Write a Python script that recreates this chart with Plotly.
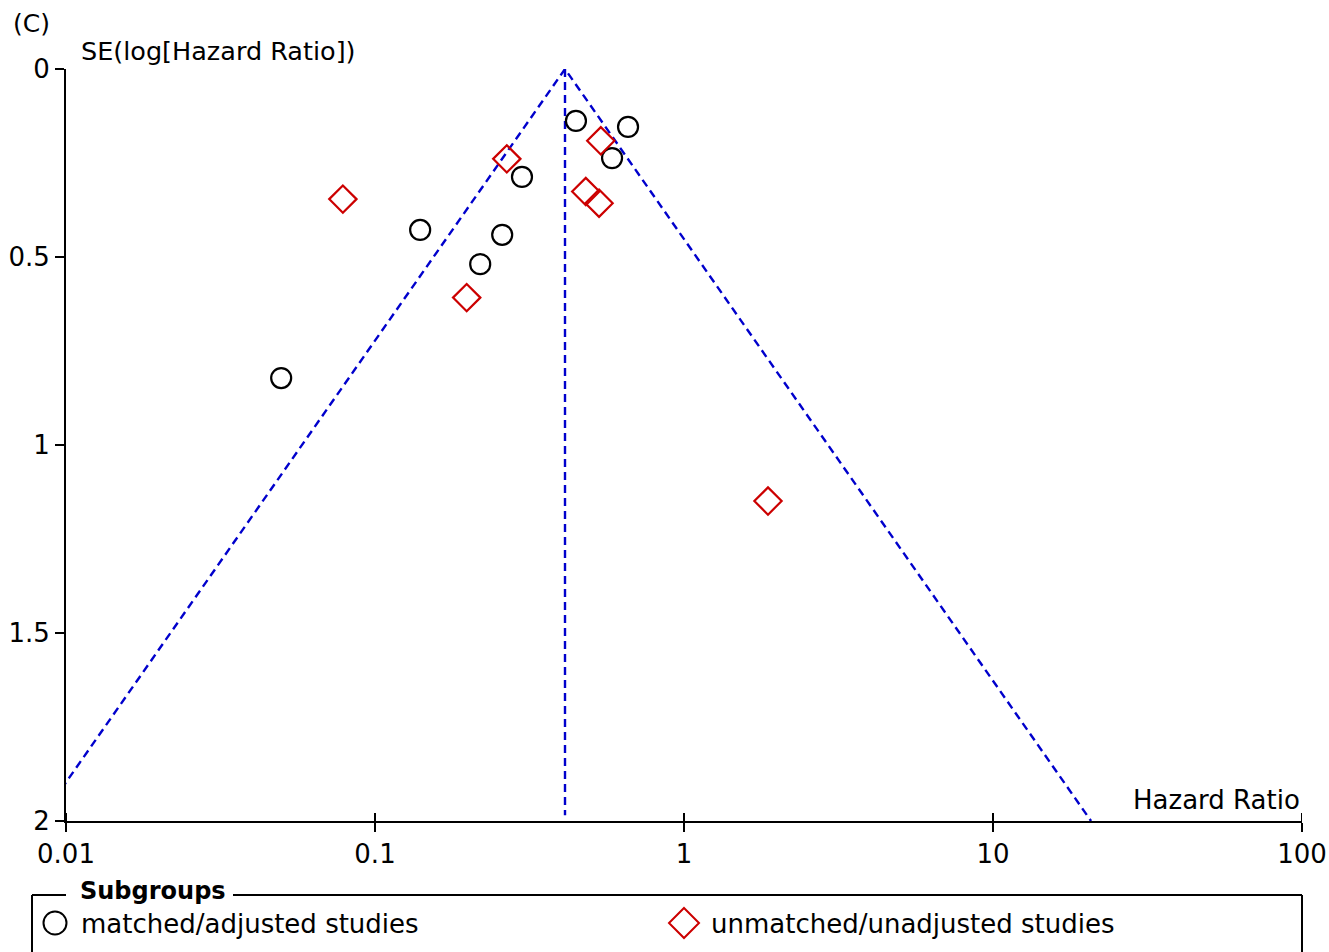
import math
import plotly.graph_objects as go

# ---- data ----
matched_hr = [0.447, 0.659, 0.585, 0.299, 0.140, 0.258, 0.219, 0.0497]
matched_se = [0.138, 0.154, 0.237, 0.287, 0.428, 0.441, 0.519, 0.822]
unmatched_hr = [0.0787, 0.267, 0.538, 0.481, 0.531, 0.198, 1.87]
unmatched_se = [0.346, 0.239, 0.191, 0.326, 0.357, 0.608, 1.149]
pooled_hr = 0.412
funnel_se = [0, 2]
x_ticks = [0.01, 0.1, 1, 10, 100]
x_tick_labels = ["0.01", "0.1", "1", "10", "100"]
y_ticks = [0, 0.5, 1, 1.5, 2]
y_tick_labels = ["0", "0.5", "1", "1.5", "2"]
legend_labels = ["matched/adjusted studies", "unmatched/unadjusted studies"]

W, H = 1329, 952
L, R, T, B = 66, 1302, 69, 821
FONT = "DejaVu Sans"
FS = 26
BLUE = "#0000CC"
RED = "#CC0000"
DASH = "8px,5px"

def px(x):
    return (x - L) / (R - L)

def py(y):
    return (B - y) / (B - T)

fig = go.Figure()

# funnel lines
se_max = funnel_se[1]
fx = [pooled_hr * math.exp(-1.96 * se_max), pooled_hr, pooled_hr * math.exp(1.96 * se_max)]
fy = [se_max, funnel_se[0], se_max]
fig.add_trace(go.Scatter(x=fx, y=fy, mode="lines",
                         line=dict(color=BLUE, width=2.4, dash=DASH),
                         showlegend=False, hoverinfo="skip"))
fig.add_trace(go.Scatter(x=[pooled_hr, pooled_hr], y=[funnel_se[0], 1.985], mode="lines",
                         line=dict(color=BLUE, width=2.4, dash=DASH),
                         showlegend=False, hoverinfo="skip"))

fig.add_trace(go.Scatter(x=matched_hr, y=matched_se, mode="markers",
                         marker=dict(symbol="circle-open", size=20, color="black",
                                     line=dict(color="black", width=2.2)),
                         showlegend=False, name=legend_labels[0]))
fig.add_trace(go.Scatter(x=unmatched_hr, y=unmatched_se, mode="markers",
                         marker=dict(symbol="diamond-open", size=21, color=RED,
                                     line=dict(color=RED, width=2.2)),
                         showlegend=False, name=legend_labels[1]))

shapes = []
# x ticks crossing inside
for t in x_ticks:
    shapes.append(dict(type="line", xref="x", yref="paper", x0=t, x1=t,
                       y0=0, y1=8 / (B - T), line=dict(color="black", width=2)))
# legend frame
frame_top = 895
shapes.append(dict(type="line", xref="paper", yref="paper",
                   x0=px(32), x1=px(66), y0=py(frame_top), y1=py(frame_top),
                   line=dict(color="black", width=2)))
shapes.append(dict(type="line", xref="paper", yref="paper",
                   x0=px(233), x1=px(1302), y0=py(frame_top), y1=py(frame_top),
                   line=dict(color="black", width=2)))
shapes.append(dict(type="line", xref="paper", yref="paper",
                   x0=px(32), x1=px(32), y0=py(frame_top), y1=py(960),
                   line=dict(color="black", width=2)))
shapes.append(dict(type="line", xref="paper", yref="paper",
                   x0=px(1302), x1=px(1302), y0=py(frame_top), y1=py(960),
                   line=dict(color="black", width=2)))
# legend glyphs
cx, cy, r = 55, 923, 11.5
shapes.append(dict(type="circle", xref="paper", yref="paper",
                   x0=px(cx - r), x1=px(cx + r), y0=py(cy + r), y1=py(cy - r),
                   line=dict(color="black", width=2)))
dxc, dyc, d = 684, 923, 15
path = "M {a},{b} L {c},{e} L {f},{g} L {h},{i} Z".format(
    a=px(dxc), b=py(dyc - d), c=px(dxc + d), e=py(dyc),
    f=px(dxc), g=py(dyc + d), h=px(dxc - d), i=py(dyc))
shapes.append(dict(type="path", xref="paper", yref="paper", path=path,
                   line=dict(color=RED, width=2)))

annotations = [
    dict(text="(C)", x=px(11), y=py(24), xref="paper", yref="paper",
         xanchor="left", yanchor="middle", showarrow=False,
         font=dict(family=FONT, size=25, color="black")),
    dict(text="SE(log[Hazard Ratio])", x=px(79), y=py(51), xref="paper", yref="paper",
         xanchor="left", yanchor="middle", showarrow=False,
         font=dict(family=FONT, size=25.5, color="black")),
    dict(text="Hazard Ratio", x=px(1302), y=py(800), xref="paper", yref="paper",
         xanchor="right", yanchor="middle", showarrow=False,
         font=dict(family=FONT, size=FS, color="black")),
    dict(text="<b>Subgroups</b>", x=px(78), y=py(891), xref="paper", yref="paper",
         xanchor="left", yanchor="middle", showarrow=False,
         font=dict(family=FONT, size=24, color="black")),
    dict(text=legend_labels[0], x=px(79), y=py(924), xref="paper", yref="paper",
         xanchor="left", yanchor="middle", showarrow=False,
         font=dict(family=FONT, size=FS, color="black")),
    dict(text=legend_labels[1], x=px(709), y=py(924), xref="paper", yref="paper",
         xanchor="left", yanchor="middle", showarrow=False,
         font=dict(family=FONT, size=FS, color="black")),
]

fig.update_layout(
    width=W, height=H,
    margin=dict(l=L, r=W - R, t=T, b=H - B, pad=0, autoexpand=False),
    paper_bgcolor="white", plot_bgcolor="white",
    font=dict(family=FONT, size=FS, color="black"),
    xaxis=dict(type="log", range=[-2, 2], tickvals=x_ticks, ticktext=x_tick_labels,
               showgrid=False, zeroline=False, showline=True, linecolor="black",
               linewidth=2, ticks="outside", ticklen=9, tickwidth=2, tickcolor="black",
               tickfont=dict(family=FONT, size=FS), automargin=False),
    yaxis=dict(range=[2, 0], tickvals=y_ticks, ticktext=y_tick_labels,
               showgrid=False, zeroline=False, showline=True, linecolor="black",
               linewidth=2, ticks="outside", ticklen=9, tickwidth=2, tickcolor="black",
               tickfont=dict(family=FONT, size=FS), automargin=False),
    shapes=shapes,
    annotations=annotations,
    showlegend=False,
)

fig.write_html("out.html")
